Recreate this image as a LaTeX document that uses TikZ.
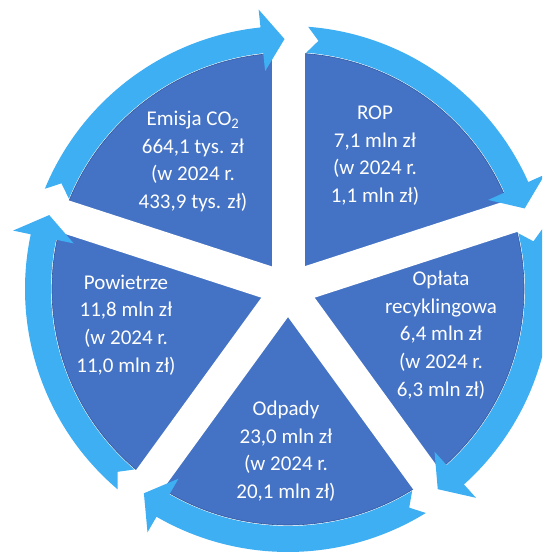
\documentclass[tikz,border=0pt]{standalone}
\usepackage{fontspec}
\setmainfont{Carlito}
\definecolor{pieblue}{RGB}{68,114,196}
\definecolor{piedark}{RGB}{50,88,160}
\definecolor{ringblue}{RGB}{63,175,243}
\begin{document}
\begin{tikzpicture}[x=1pt,y=1pt,
  lbl/.style={text=white, align=center, font=\fontsize{21}{27.6}\selectfont},
  arm/.style={white, line width=33pt},
  ringarrow/.style={fill=ringblue}]
\useasboundingbox (0,0) rectangle (542,556);
\clip (0,0) rectangle (542,556);
\coordinate (C) at (288,267);
% pie
\fill[pieblue] (C) circle[radius=236];
\draw[piedark, line width=0.6pt] (C) circle[radius=236];
% white separating arms
\foreach \g in {90,18,-54,-126,162}
  \draw[arm] (C) -- ++(\g:262);
% ring arrows
\foreach \g in {90,18,-54,-126,162} {
  \pgfmathsetmacro{\ta}{\g-4.4}
  \pgfmathsetmacro{\tn}{\g-7}
  \pgfmathsetmacro{\hb}{\g-72+6}
  \pgfmathsetmacro{\ht}{\g-72+0.8}
  \fill[ringarrow] ([shift={(C)}]\ta:263) arc[start angle=\ta, end angle=\hb, radius=263]
    -- ([shift={(C)}]\hb:281) -- ([shift={(C)}]\ht:250) -- ([shift={(C)}]\hb:219)
    -- ([shift={(C)}]\hb:237) arc[start angle=\hb, end angle=\ta, radius=237]
    -- ([shift={(C)}]\tn:250) -- cycle;
}
% labels
\node[lbl] (emisja) at (193,394.5) {Emisja CO\textsubscript{2}\\664,1 tys. zł\\(w 2024 r.\\433,9 tys. zł)};
\node[lbl] (rop) at (375,400.5) {ROP\\7,1 mln zł\\(w 2024 r.\\1,1 mln zł)};
\node[lbl] (oplata) at (441,221) {Opłata\\recyklingowa\\6,4 mln zł\\(w 2024 r.\\6,3 mln zł)};
\node[lbl] (odpady) at (286,105) {Odpady\\23,0 mln zł\\(w 2024 r.\\20,1 mln zł)};
\node[lbl] (powietrze) at (126,231) {Powietrze\\11,8 mln zł\\(w 2024 r.\\11,0 mln zł)};
\end{tikzpicture}
\end{document}
